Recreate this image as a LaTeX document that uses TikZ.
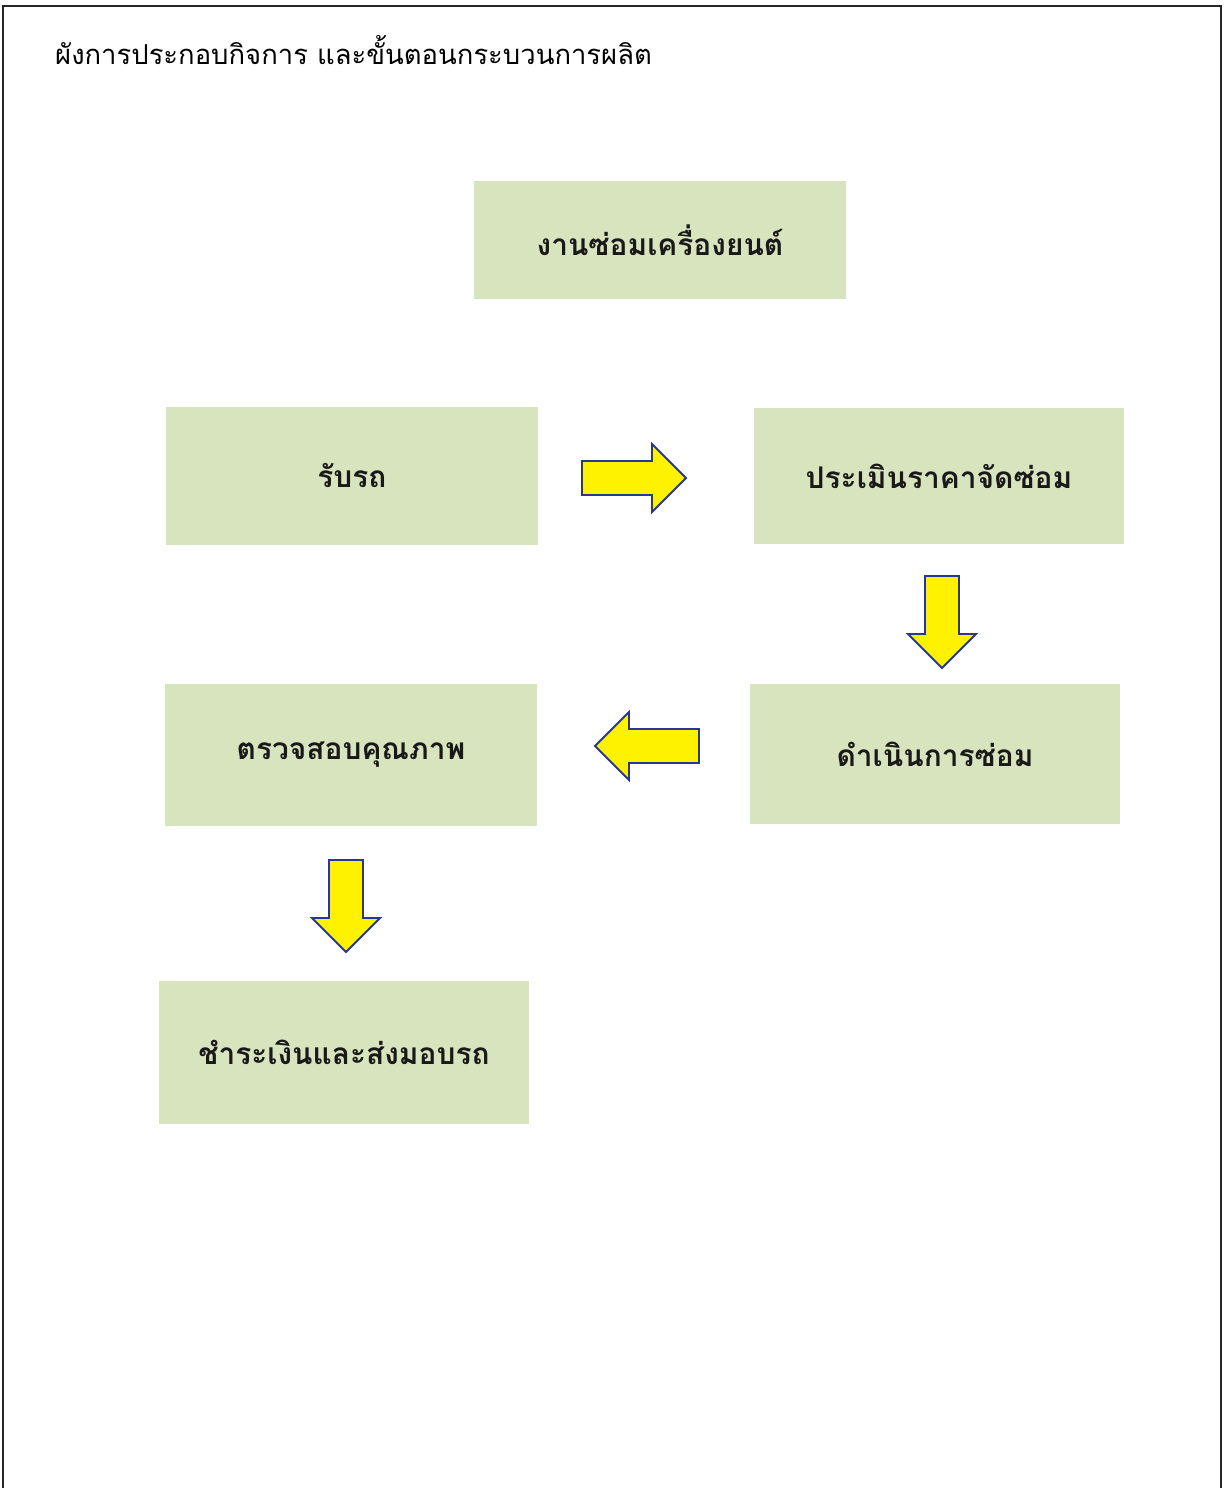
\documentclass[tikz,border=0pt]{standalone}
\usepackage{fontspec}
\newfontfamily\thaifont[Script=Thai]{Loma}
\usetikzlibrary{positioning}
\definecolor{boxgreen}{RGB}{215,228,190}
\definecolor{arrowblue}{RGB}{40,55,150}

\begin{document}
\begin{tikzpicture}[x=0.02cm,y=-0.02cm,
  stepbox/.style={fill=boxgreen, inner sep=0pt, text=black!90, font=\thaifont\bfseries\fontsize{17}{21}\selectfont},
  yarrow/.style={fill=yellow, draw=arrowblue, line width=1.1pt, line join=miter}]
  \useasboundingbox (0,0) rectangle (1224,1488);
  % page frame
  \draw[line width=1.6pt, black!85] (3,1488) -- (3,6) -- (1221,6) -- (1221,1488);
  \node[anchor=base west, font=\thaifont\fontsize{15.6}{19}\selectfont] (title) at (49,64) {ผังการประกอบกิจการ และขั้นตอนกระบวนการผลิต};

  % boxes
  \node[stepbox, minimum width=7.44cm, minimum height=2.38cm] (engine) at (660,240) {งานซ่อมเครื่องยนต์};
  \node[stepbox, minimum width=7.44cm, minimum height=2.76cm] (receive) at (352,476) {รับรถ};
  \node[stepbox, minimum width=7.40cm, minimum height=2.74cm] (estimate) at (939,476) {ประเมินราคาจัดซ่อม};
  \node[stepbox, minimum width=7.40cm, minimum height=2.82cm] (repair) at (935,754) {ดำเนินการซ่อม};
  \node[stepbox, minimum width=7.44cm, minimum height=2.86cm] (inspect) at (351,755) {ตรวจสอบคุณภาพ};
  \node[stepbox, minimum width=7.42cm, minimum height=2.86cm] (deliver) at (344,1052) {ชำระเงินและส่งมอบรถ};

  % block arrows
  \draw[yarrow, shift={(634,478)}] (-52,-17) -- (18,-17) -- (18,-34) -- (52,0) -- (18,34) -- (18,17) -- (-52,17) -- cycle;
  \draw[yarrow, shift={(942,622)}, rotate=-90] (-46,-17) -- (12,-17) -- (12,-34) -- (46,0) -- (12,34) -- (12,17) -- (-46,17) -- cycle;
  \draw[yarrow, shift={(647,746)}, rotate=180] (-52,-17) -- (18,-17) -- (18,-34) -- (52,0) -- (18,34) -- (18,17) -- (-52,17) -- cycle;
  \draw[yarrow, shift={(346,906)}, rotate=-90] (-46,-17) -- (12,-17) -- (12,-34) -- (46,0) -- (12,34) -- (12,17) -- (-46,17) -- cycle;
\end{tikzpicture}
\end{document}
